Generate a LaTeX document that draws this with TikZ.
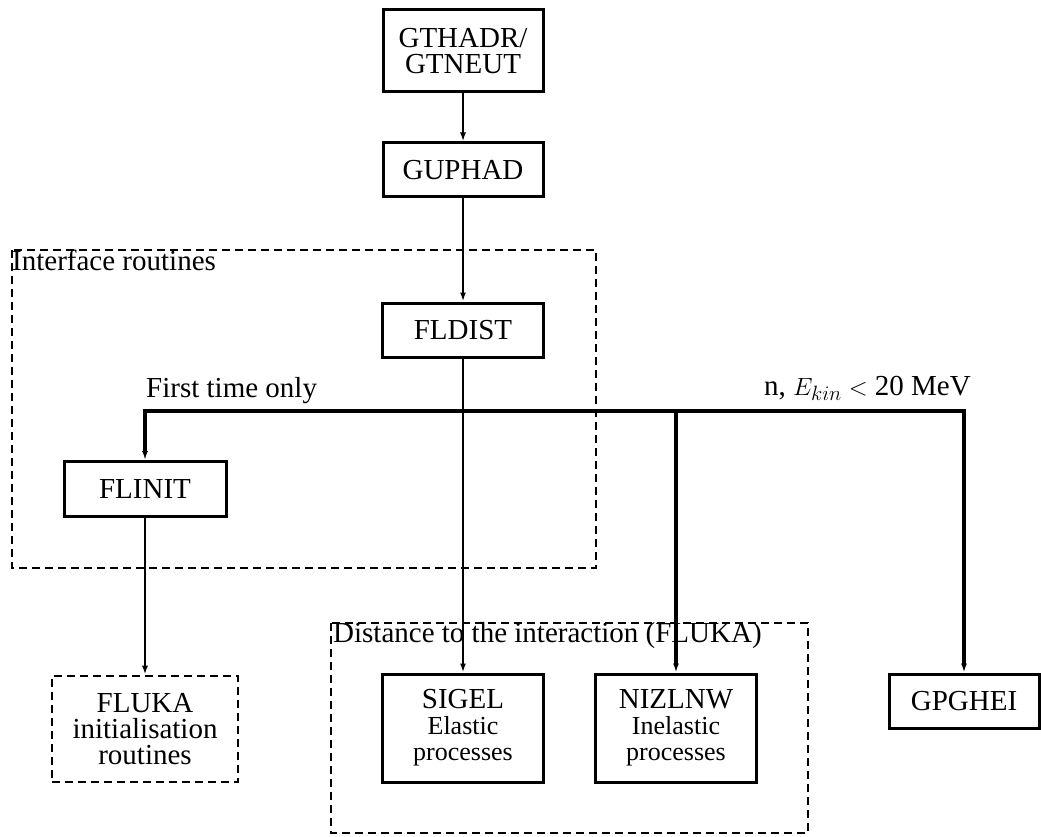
\documentclass[tikz,border=0pt]{standalone}
\usepackage{fontspec}
\setmainfont{Liberation Serif}
\usepackage{amsmath}
\usepackage{tikz}
\usetikzlibrary{arrows.meta}

\newcommand{\subtext}{\fontsize{26}{23}\selectfont}

\begin{document}
\begin{tikzpicture}[x=1pt, y=-1pt,
    font=\fontsize{29}{26}\selectfont,
    >={Latex[length=9pt, width=6pt]},
    routine/.style={draw, line width=3pt, inner sep=0pt, align=center},
    framebox/.style={draw, line width=2.6pt, dash pattern=on 8pt off 5pt},
    link/.style={->, line width=2.2pt},
    branch/.style={->, line width=3.2pt}]
    \useasboundingbox (0, 0) rectangle (1041, 837);

    % dashed groups
    \draw[framebox] (12, 250) rectangle (596, 568);
    \draw[framebox] (331, 623) rectangle (808, 833);
    \node[anchor=base west, inner sep=0pt] at (12, 270) (ifclabel) {Interface routines};
    \node[anchor=base west, inner sep=0pt] at (333, 642) (distlabel) {Distance to the interaction (FLUKA)};

    \node[routine, minimum width=160, minimum height=82] at (463, 51) (gthadr) {GTHADR/\\GTNEUT};
    \node[routine, minimum width=160, minimum height=54] at (463, 170) (guphad) {GUPHAD};
    \node[routine, minimum width=161, minimum height=54] at (463, 330) (fldist) {FLDIST};
    \node[routine, minimum width=162, minimum height=55] at (145, 489) (flinit) {FLINIT};
    \node[routine, framebox, minimum width=186, minimum height=106] at (145, 729) (flukainit) {FLUKA\\initialisation\\routines};
    \node[routine, minimum width=161, minimum height=108] at (463, 728) (sigel) {SIGEL\\\subtext Elastic\\\subtext processes};
    \node[routine, minimum width=161, minimum height=108] at (676, 728) (nizlnw) {NIZLNW\\\subtext Inelastic\\\subtext processes};
    \node[routine, minimum width=150, minimum height=54] at (964, 701) (gpghei) {GPGHEI};

    \coordinate (split) at (463, 411);
    \node[anchor=base west, inner sep=0pt] at (146, 397) (firstlabel) {First time only};
    \node[anchor=base east, inner sep=0pt] at (971, 395) (ekinlabel) {n, $E_{kin} <$ 20 MeV};

    \draw[link] (gthadr) -- (guphad);
    \draw[link] (guphad) -- (fldist);
    \draw[link] (fldist) -- (sigel);
    \draw[branch] (split) -| (flinit);
    \draw[branch] (split) -| (nizlnw);
    \draw[branch] (split) -| (gpghei);
    \draw[link] (flinit) -- (flukainit);
\end{tikzpicture}
\end{document}
